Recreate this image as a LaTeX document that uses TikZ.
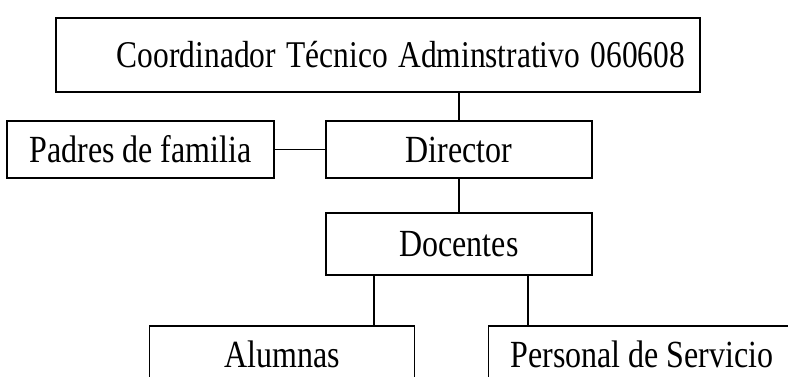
\documentclass[tikz,border=0pt]{standalone}
\usepackage{graphicx}
\usepackage{fontspec}
\setmainfont{Liberation Serif}
\usetikzlibrary{positioning}

\newcommand{\alto}[1]{\scalebox{1}[1.2]{#1}}

\begin{document}
\begin{tikzpicture}[x=0.75pt,y=-0.75pt,
  caja/.style={draw, line width=1.1pt, inner sep=0pt, font=\fontsize{24}{28}\selectfont},
  cajabaja/.style={anchor=north, inner sep=0pt, text height=30.75pt, text depth=0pt,
    font=\fontsize{24}{28}\selectfont},
  enlace/.style={line width=1.1pt}]
\clip (0,0) rectangle (788,376);
% Cajas
\node[caja, minimum width=483pt, minimum height=55.5pt, inner xsep=11.25pt,
  text width=460.5pt, align=right, font=\fontsize{23.6}{28}\selectfont] (coord) at (378,55) {\alto{Coordinador Técnico Adminstrativo 060608}};
\node[caja, minimum width=200.25pt, minimum height=42.75pt] (pad) at (140.5,149.5) {\alto{Padres de familia}};
\node[caja, minimum width=199.5pt, minimum height=42.75pt] (dir) at (459,149.5) {\alto{Director}};
\node[caja, minimum width=199.5pt, minimum height=46.5pt] (doc) at (459,244) {\alto{Docentes}};
% Cajas de abajo (cortadas por el borde)
\node[cajabaja, minimum width=198pt] (alu) at (282,326) {\alto{Alumnas}};
\node[cajabaja, minimum width=229.5pt] (per) at (642,326) {\alto{Personal de Servicio}};
\draw[enlace] ([yshift=-10pt]alu.south west) -- (alu.north west) -- (alu.north east) -- ([yshift=-10pt]alu.south east);
\draw[enlace] ([yshift=-10pt]per.south west) -- (per.north west) -- (per.north east) -- ([yshift=-10pt]per.south east);
% Puntos de bajada
\coordinate (ka) at (374,0);
\coordinate (kp) at (528,0);
% Enlaces
\draw[enlace] (dir.north) -- (dir.north |- coord.south);
\draw[enlace] (pad.east) -- (dir.west);
\draw[enlace] (dir.south) -- (doc.north);
\draw[enlace] (doc.south -| ka) -- (alu.north -| ka);
\draw[enlace] (doc.south -| kp) -- (per.north -| kp);
\end{tikzpicture}
\end{document}
